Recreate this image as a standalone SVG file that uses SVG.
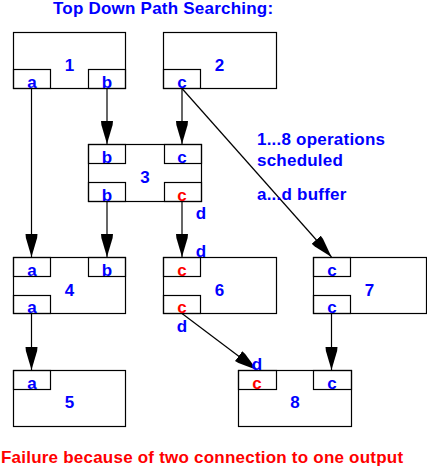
<svg xmlns="http://www.w3.org/2000/svg" width="427" height="468" viewBox="0 0 427 468">
<style>
rect{fill:none;stroke:#000;stroke-width:1.2}
text{font-family:"Liberation Sans",Arial,Helvetica,sans-serif;font-weight:bold;font-size:17px}
.s{letter-spacing:0.22px}
.b{fill:#0000ff}
.r{fill:#ff0000}
.m{text-anchor:middle}
#connectors line{stroke:#000;stroke-width:1.2;marker-end:url(#ah)}
</style>
<defs>
<marker id="ah" markerUnits="userSpaceOnUse" markerWidth="24" markerHeight="14" viewBox="0 -7 24 14" refX="23" refY="0" orient="auto">
<path d="M0,-6 L4,-5.6 L23,0 L4,5.6 L0,6 z" fill="#000"/>
</marker>
</defs>
<rect width="427" height="468" style="fill:#fff;stroke:none"/>
<text class="b s" x="53" y="14">Top Down Path Searching:</text>

<g id="node1">
<rect x="13.5" y="32.5" width="112" height="56"/>
<rect x="13.5" y="69.5" width="37" height="19"/>
<rect x="88.5" y="69.5" width="37" height="19"/>
<text class="b m" x="69.5" y="70.5">1</text>
<text class="b m" x="32" y="87.5">a</text>
<text class="b m" x="107" y="87.5">b</text>
</g>
<g id="node2">
<rect x="163.5" y="32.5" width="113" height="56"/>
<rect x="163.5" y="69.5" width="37" height="19"/>
<text class="b m" x="219.5" y="70.5">2</text>
<text class="b m" x="182" y="87.5">c</text>
</g>
<g id="node3">
<rect x="88.5" y="144.5" width="113" height="57"/>
<rect x="88.5" y="144.5" width="37" height="19"/>
<rect x="164.5" y="144.5" width="37" height="19"/>
<rect x="88.5" y="182.5" width="37" height="19"/>
<rect x="164.5" y="182.5" width="37" height="19"/>
<text class="b m" x="145" y="182.5">3</text>
<text class="b m" x="107" y="163">b</text>
<text class="b m" x="182" y="163">c</text>
<text class="b m" x="107" y="201">b</text>
<text class="r m" x="182" y="201">c</text>
</g>
<g id="node4">
<rect x="13.5" y="257.5" width="112" height="56"/>
<rect x="13.5" y="257.5" width="37" height="19"/>
<rect x="88.5" y="257.5" width="37" height="19"/>
<rect x="13.5" y="295.5" width="37" height="18"/>
<text class="b m" x="69.5" y="295.5">4</text>
<text class="b m" x="32" y="276">a</text>
<text class="b m" x="107" y="276">b</text>
<text class="b m" x="32" y="313">a</text>
</g>
<g id="node5">
<rect x="13.5" y="370.5" width="112" height="56"/>
<rect x="13.5" y="370.5" width="37" height="19"/>
<text class="b m" x="69.5" y="408">5</text>
<text class="b m" x="32" y="389">a</text>
</g>
<g id="node6">
<rect x="163.5" y="257.5" width="113" height="56"/>
<rect x="163.5" y="257.5" width="37" height="19"/>
<rect x="163.5" y="295.5" width="37" height="18"/>
<text class="b m" x="219.5" y="295.5">6</text>
<text class="r m" x="182" y="276">c</text>
<text class="r m" x="182" y="313">c</text>
</g>
<g id="node7">
<rect x="313.5" y="257.5" width="113" height="56"/>
<rect x="313.5" y="257.5" width="37" height="19"/>
<rect x="313.5" y="295.5" width="37" height="18"/>
<text class="b m" x="369.5" y="295.5">7</text>
<text class="b m" x="332" y="276">c</text>
<text class="b m" x="332" y="313">c</text>
</g>
<g id="node8">
<rect x="238.5" y="370.5" width="113" height="56"/>
<rect x="238.5" y="370.5" width="38" height="19"/>
<rect x="313.5" y="370.5" width="38" height="19"/>
<text class="b m" x="295" y="408">8</text>
<text class="r m" x="257" y="389">c</text>
<text class="b m" x="332" y="389">c</text>
</g>

<g id="connectors">
<line x1="31.5" y1="88.5" x2="31.5" y2="257"/>
<line x1="107" y1="88.5" x2="107" y2="144"/>
<line x1="182" y1="88.5" x2="182" y2="144"/>
<line x1="182" y1="88.5" x2="331.5" y2="257"/>
<line x1="107" y1="201.5" x2="107" y2="257"/>
<line x1="182" y1="201.5" x2="182" y2="257"/>
<line x1="31.5" y1="313.5" x2="31.5" y2="370"/>
<line x1="182" y1="313.5" x2="257" y2="370"/>
<line x1="331.5" y1="313.5" x2="331.5" y2="370"/>
</g>

<text class="b m" x="201" y="219">d</text>
<text class="b m" x="201" y="257">d</text>
<text class="b m" x="182" y="332">d</text>
<text class="b m" x="257" y="369.5">d</text>

<text class="b s" x="257" y="145">1...8 operations</text>
<text class="b s" x="257" y="165.5">scheduled</text>
<text class="b s" x="257" y="200">a...d buffer</text>

<text class="r s" x="1" y="463">Failure because of two connection to one output</text>
</svg>
